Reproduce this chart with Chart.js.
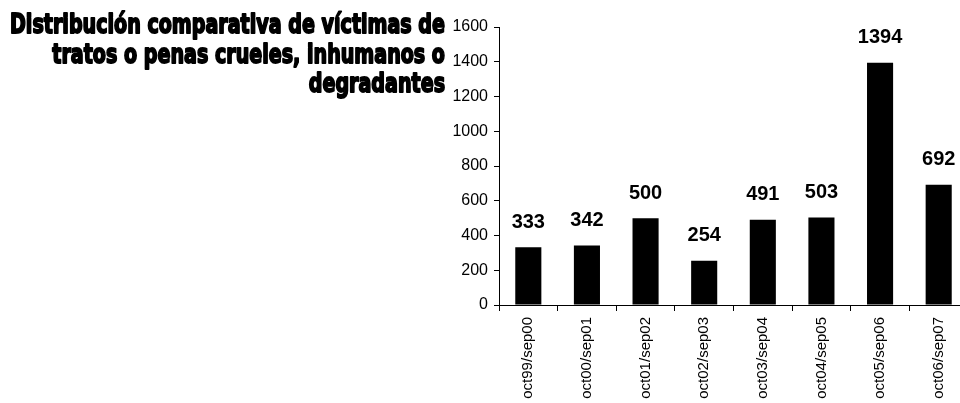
<!DOCTYPE html>
<html>
<head>
<meta charset="utf-8">
<script src="https://cdn.jsdelivr.net/npm/chart.js@4/dist/chart.umd.min.js"></script>
<style>
  html, body { margin: 0; padding: 0; background: #fff; overflow: hidden; width: 960px; height: 403px; }
  #wrap { position: absolute; left: 0; top: 0; width: 968px; height: 403px; }
</style>
</head>
<body>
<div id="wrap"><canvas id="c" width="968" height="403"></canvas></div>
<script>
const categories = ["oct99/sep00", "oct00/sep01", "oct01/sep02", "oct02/sep03", "oct03/sep04", "oct04/sep05", "oct05/sep06", "oct06/sep07"];
const victims = [333, 342, 500, 254, 491, 503, 1394, 692];
const yTickLabels = ["0", "200", "400", "600", "800", "1000", "1200", "1400", "1600"];
const titleLines = ["Distribución comparativa de víctimas de", "tratos o penas crueles, inhumanos o", "degradantes"];

const tickFont = "'Liberation Sans', Arial, sans-serif";

const titlePlugin = {
  id: 'sideTitle',
  afterDraw(chart) {
    const ctx = chart.ctx;
    ctx.save();
    ctx.font = "bold 27px 'DejaVu Sans Condensed', 'DejaVu Sans', sans-serif";
    ctx.fillStyle = '#000';
    ctx.textBaseline = 'alphabetic';
    const w0 = ctx.measureText(titleLines[0]).width;
    const sx = 435 / w0;
    const rightX = 445;
    const baselines = [33, 63, 92];
    titleLines.forEach((line, i) => {
      const w = ctx.measureText(line).width * sx;
      ctx.save();
      ctx.translate(rightX - w, baselines[i]);
      ctx.scale(sx, 1);
      ctx.textAlign = 'left';
      ctx.strokeStyle = '#000';
      ctx.lineJoin = 'round';
      ctx.lineWidth = 1.8;
      ctx.strokeText(line, 0, 0);
      ctx.fillText(line, 0, 0);
      ctx.restore();
    });
    ctx.restore();
  }
};

const valuePlugin = {
  id: 'values',
  afterDatasetsDraw(chart) {
    const ctx = chart.ctx;
    const meta = chart.getDatasetMeta(0);
    ctx.save();
    ctx.font = "bold 20px 'Liberation Sans', Arial, sans-serif";
    ctx.fillStyle = '#000';
    ctx.textAlign = 'center';
    ctx.textBaseline = 'middle';
    meta.data.forEach((bar, i) => {
      ctx.fillText(String(chart.data.datasets[0].data[i]), bar.x, bar.y - 25);
    });
    ctx.restore();
  }
};

new Chart(document.getElementById('c'), {
  type: 'bar',
  data: {
    labels: categories,
    datasets: [{
      data: victims,
      backgroundColor: '#000',
      borderWidth: 0,
      barPercentage: 0.445,
      categoryPercentage: 1.0
    }]
  },
  options: {
    responsive: false,
    animation: false,
    devicePixelRatio: 1,
    layout: { padding: { top: 27, left: 0, right: 0, bottom: 0 } },
    plugins: { legend: { display: false }, tooltip: { enabled: false }, title: { display: false } },
    scales: {
      x: {
        offset: true,
        grid: { display: true, drawOnChartArea: false, drawTicks: true, tickLength: 6, color: '#000', offset: true },
        border: { display: true, color: '#000', width: 1 },
        ticks: {
          color: '#000',
          font: { family: tickFont, size: 15 },
          maxRotation: 90,
          minRotation: 90,
          padding: 6,
          autoSkip: false
        },
        afterFit(scale) { scale.height = 98; }
      },
      y: {
        min: 0,
        max: 1600,
        grid: { display: true, drawOnChartArea: false, drawTicks: true, tickLength: 5, color: '#000' },
        border: { display: true, color: '#000', width: 1 },
        ticks: {
          stepSize: 200,
          color: '#000',
          font: { family: tickFont, size: 16 },
          padding: 6,
          callback: (v, i) => yTickLabels[i]
        },
        afterFit(scale) { scale.width = 499; }
      }
    }
  },
  plugins: [titlePlugin, valuePlugin]
});
</script>
</body>
</html>
